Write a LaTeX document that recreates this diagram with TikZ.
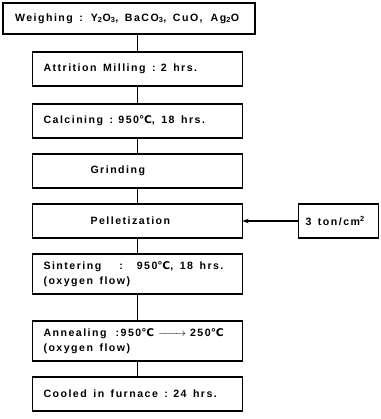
\documentclass[tikz,border=0pt]{standalone}
\usepackage{fontspec}
\setmainfont{Liberation Sans}[LetterSpace=14]
\newfontfamily\symfont{DejaVu Sans}[LetterSpace=4]
\newcommand{\degc}{{\symfont ℃}}
\newcommand{\widespaces}{\spaceskip=6.5pt plus 1pt\relax}
\usetikzlibrary{positioning, arrows.meta}

\begin{document}
\begin{tikzpicture}[x=1pt, y=-1pt,
  stepbox/.style={draw, line width=1.2pt, outer sep=0pt, minimum width=209pt, minimum height=34pt,
    text width=188pt, inner xsep=11pt, align=left,
    font=\bfseries\fontsize{10.6}{15}\selectfont, execute at begin node=\widespaces},
  widebox/.style={stepbox, minimum width=252pt, text width=240pt, inner xsep=6pt, minimum height=31pt},
  tallbox/.style={stepbox, minimum height=40pt},
  link/.style={line width=1.2pt},
  feed/.style={line width=1.2pt, -{Stealth[length=6pt, width=4.5pt]}}]
  \useasboundingbox (0,0) rectangle (380,419);

  % process chain
  \node[widebox] (weigh) at (129,18.5)
    {\hspace*{6pt}Weighing :\hspace{8pt}Y\textsubscript{2}O\textsubscript{3}, BaCO\textsubscript{3}, CuO,\hspace{8pt}Ag\textsubscript{2}O};
  \node[stepbox, below=18pt of weigh, xshift=8.5pt] (mill) {Attrition Milling : 2 hrs.};
  \node[stepbox, below=18pt of mill] (calc) {Calcining : 950\degc, 18 hrs.};
  \node[stepbox, below=16pt of calc] (grind) {\hspace*{47pt}Grinding};
  \node[stepbox, below=16pt of grind] (pellet) {\hspace*{47pt}Pelletization};
  \node[tallbox, below=16pt of pellet] (sinter)
    {Sintering\hspace{18pt}:\hspace{14pt}950\degc, 18 hrs.\\(oxygen flow)};
  \node[tallbox, below=27pt of sinter] (anneal)
    {Annealing\hspace{9pt}:950\degc\hspace{4pt}\makebox[28pt]{\rightarrowfill}\hspace{4pt}250\degc\\(oxygen flow)};
  \node[stepbox, below=16pt of anneal] (cool) {Cooled in furnace : 24 hrs.};

  % pressure input
  \node[stepbox, minimum width=80pt, text width=66pt, inner xsep=7pt, right=56pt of pellet] (press)
    {3 ton/cm\textsuperscript{2}};

  \draw[link] (weigh.south -| mill.north) -- (mill.north);
  \draw[link] (mill) -- (calc);
  \draw[link] (calc) -- (grind);
  \draw[link] (grind) -- (pellet);
  \draw[link] (pellet) -- (sinter);
  \draw[link] (sinter) -- (anneal);
  \draw[link] (anneal) -- (cool);
  \draw[feed] (press) -- (pellet);
\end{tikzpicture}
\end{document}
